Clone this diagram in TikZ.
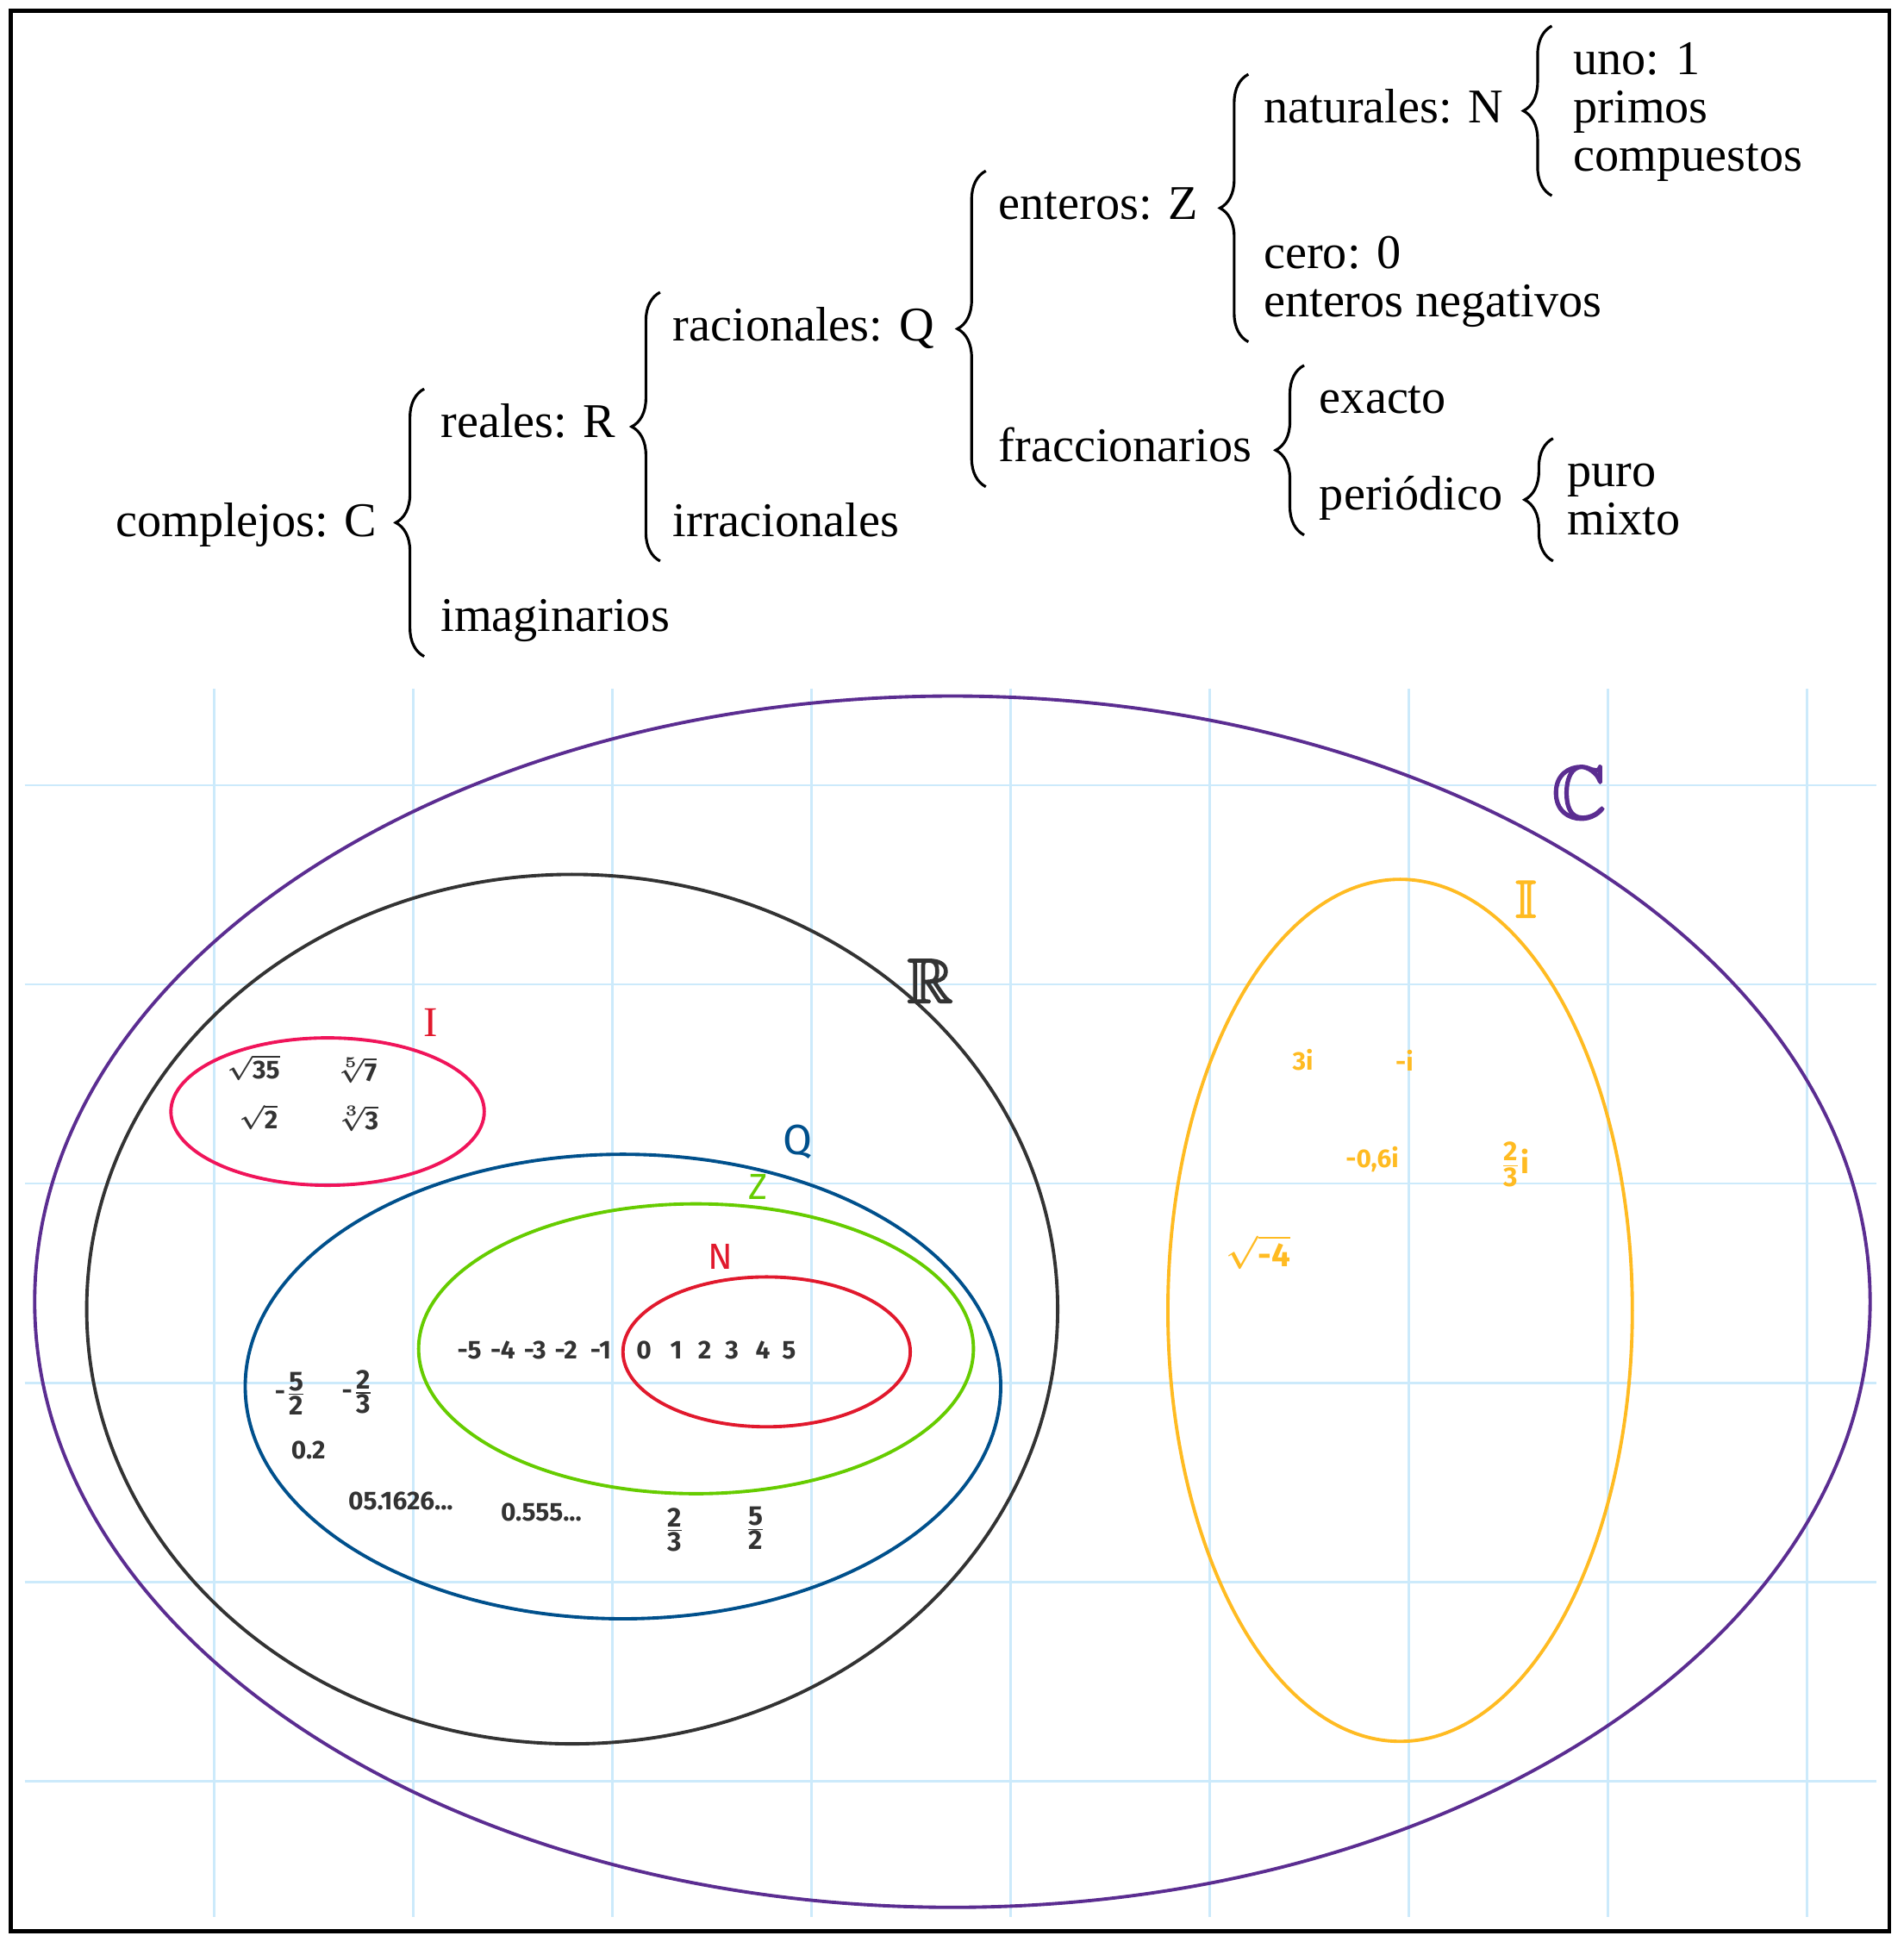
\documentclass[tikz,border=0pt]{standalone}
\usepackage{amsmath,amssymb}
\usepackage{fontspec}
\setmainfont{Liberation Serif}
\newfontfamily\mano{Fira Sans}
\usetikzlibrary{decorations.pathreplacing,calc}
\definecolor{morado}{RGB}{91,45,145}
\definecolor{oscuro}{RGB}{51,51,51}
\definecolor{azul}{RGB}{0,80,140}
\definecolor{verde}{RGB}{102,204,0}
\definecolor{rojo}{RGB}{225,25,45}
\definecolor{rosa}{RGB}{240,20,90}
\definecolor{amarillo}{RGB}{255,187,34}
\definecolor{cuadricula}{RGB}{204,234,251}
\newcommand\quebrado[2]{$\frac{\mbox{\fontsize{9}{9}\selectfont#1}}{\mbox{\fontsize{9}{9}\selectfont#2}}$}
\newcommand\grueso[1]{\special{pdf:code 2 Tr 0.6 w}#1\special{pdf:code 0 Tr}}
\begin{document}
\begin{tikzpicture}[x=0.01437cm,y=-0.01437cm,
  texto/.style={font=\fontsize{16}{19}\selectfont,anchor=base west,inner sep=0pt},
  llave/.style={decorate,decoration={brace,amplitude=0.33cm},line width=0.9pt},
  linea/.style={cuadricula,line width=0.8pt},
  conj/.style={line width=1.1pt},
  num/.style={font=\mano\bfseries\boldmath\fontsize{8.5}{10}\selectfont,text=oscuro,inner sep=0pt},
  imag/.style={num,text=amarillo},
  letra/.style={inner sep=0pt,font=\mano\fontsize{#1}{#1}\selectfont}]
\fill[white] (0,0) rectangle (1537,1568);
\useasboundingbox (0,0) rectangle (1537,1568);
\draw[line width=1.4pt] (8.5,9) rectangle (1525.5,1559);
% clasificacion
\node[texto] (complejos) at (93,433) {complejos: C};
\node[texto] (reales) at (355.5,353) {reales: R};
\node[texto] (imaginarios) at (355.5,510) {imaginarios};
\node[texto] (racionales) at (543,275) {racionales: Q};
\node[texto] (irracionales) at (543,433) {irracionales};
\node[texto] (enteros) at (806,177) {enteros: Z};
\node[texto] (fraccionarios) at (806,373) {fraccionarios};
\node[texto] (naturales) at (1020,99) {naturales: N};
\node[texto] (cero) at (1020,217) {cero: 0};
\node[texto] (negativos) at (1020,256) {enteros negativos};
\node[texto] (uno) at (1270,60) {uno: 1};
\node[texto] (primos) at (1270,99) {primos};
\node[texto] (compuestos) at (1270,138) {compuestos};
\node[texto] (exacto) at (1065,334) {exacto};
\node[texto] (periodico) at (1065,412) {periódico};
\node[texto] (puro) at (1265,393) {puro};
\node[texto] (mixto) at (1265,432) {mixto};
\draw[llave] ($(imaginarios.base west)+(-13,20)$) -- ($(reales.base west)+(-13,-39)$);
\draw[llave] ($(irracionales.base west)+(-10,20)$) -- ($(racionales.base west)+(-10,-39)$);
\draw[llave] ($(fraccionarios.base west)+(-10,20)$) -- ($(enteros.base west)+(-10,-39)$);
\draw[llave] ($(negativos.base west)+(-12,20)$) -- ($(naturales.base west)+(-12,-39)$);
\draw[llave] ($(compuestos.base west)+(-17,20)$) -- ($(uno.base west)+(-17,-39)$);
\draw[llave] ($(periodico.base west)+(-12,20)$) -- ($(exacto.base west)+(-12,-39)$);
\draw[llave] ($(mixto.base west)+(-11,21)$) -- ($(puro.base west)+(-11,-39)$);
% cuadricula
\foreach \i in {0,...,8}
  \draw[linea] (173+160.75*\i,556) -- (173+160.75*\i,1548);
\foreach \j in {0,...,5}
  \draw[linea] (20,634+160.8*\j) -- (1515,634+160.8*\j);
% conjuntos
\draw[conj,morado] (769,1051) ellipse [x radius=741,y radius=489];
\draw[conj,oscuro] (462,1057) ellipse [x radius=392,y radius=351];
\draw[conj,azul] (503,1119.5) ellipse [x radius=305,y radius=187.5];
\draw[conj,verde] (562,1089) ellipse [x radius=224,y radius=117];
\draw[conj,rojo] (619,1091.5) ellipse [x radius=116,y radius=60.5];
\draw[conj,rosa] (264.5,897.5) ellipse [x radius=126.5,y radius=59.5];
\draw[conj,amarillo] (1130.5,1058) ellipse [x radius=187.5,y radius=348];
\node[inner sep=0pt,text=morado,font=\fontsize{24.88}{25}\selectfont] (etiqC) at (1275,640) {\grueso{$\mathbb{C}$}};
\node[inner sep=0pt,text=oscuro,font=\fontsize{20.74}{21}\selectfont] (etiqR) at (751,792) {\grueso{$\mathbb{R}$}};
\node[inner sep=0pt,text=amarillo,font=\fontsize{17.28}{18}\selectfont] (etiqII) at (1232,726) {\grueso{$\mathbb{I}$}};
\node[inner sep=0pt,text=rojo,font=\fontsize{14}{14}\selectfont] (etiqI) at (348,826) {I};
\node[letra=14,text=azul] (etiqQ) at (644,922) {Q};
\node[letra=12,text=verde] (etiqZ) at (612,958) {Z};
\node[letra=12,text=rojo] (etiqN) at (582,1015) {N};
% elementos
\node[num] (sq35) at (205,862) {$\sqrt{\mbox{35}}$};
\node[num] (rt7) at (288,864) {$\sqrt[5]{\mbox{7}}$};
\node[num] (sq2) at (209,902) {$\sqrt{\mbox{2}}$};
\node[num] (rt3) at (289,903) {$\sqrt[3]{\mbox{3}}$};
\foreach \valor/\pos in {-5/379,-4/406,-3/432,-2/457,-1/485,0/520,1/546,2/569,3/591,4/616,5/637}
  \node[num] (z\pos) at (\pos,1090) {\valor};
\node[num] (fcincon) at (235,1125) {-\quebrado{5}{2}};
\node[num] (fdosn) at (289,1124) {-\quebrado{2}{3}};
\node[num] (dcero) at (249,1171) {0.2};
\node[num] (dper) at (323.5,1212) {05.1626...};
\node[num] (dcinco) at (437,1221) {0.555...};
\node[num] (fdos) at (545,1235) {\quebrado{2}{3}};
\node[num] (fcinco) at (610,1234) {\quebrado{5}{2}};
\node[imag] (itres) at (1052,856) {3i};
\node[imag] (imenos) at (1134,856) {-i};
\node[imag] (iseis) at (1108,936) {-0,6i};
\node[imag,font=\mano\bfseries\boldmath\fontsize{10}{12}\selectfont] (ifrac) at (1223,940) {\quebrado{2}{3}i};
\node[imag,font=\mano\bfseries\boldmath\fontsize{11}{12}\selectfont] (iraiz) at (1016,1011) {$\sqrt{\mbox{-4}}$};
\end{tikzpicture}
\end{document}
